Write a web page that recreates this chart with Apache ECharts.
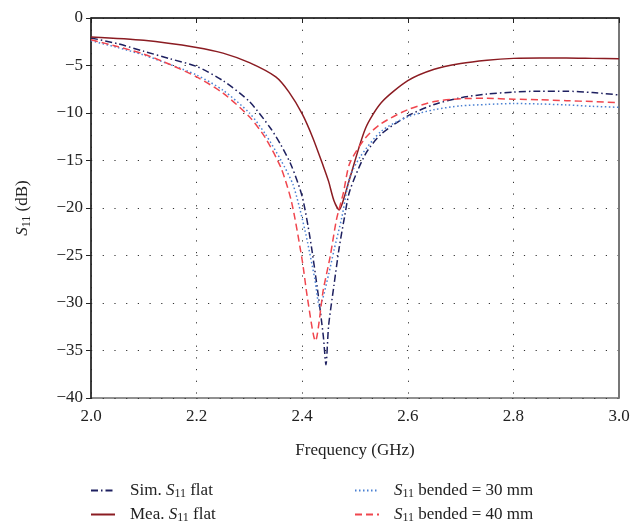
<!DOCTYPE html>
<html>
<head>
<meta charset="utf-8">
<script src="https://cdn.jsdelivr.net/npm/echarts@6/dist/echarts.min.js"></script>
<style>
  html, body { margin: 0; padding: 0; background: #fff; }
  #chart { width: 633px; height: 527px; }
</style>
</head>
<body>
<div id="chart"></div>
<script>
// frequency (GHz) / S11 (dB) pairs
const simFlat = [
  [2.0, -2.1], [2.05, -2.7], [2.1, -3.5], [2.15, -4.3], [2.2, -5.1], [2.25, -6.6],
  [2.3, -8.8], [2.34, -11.6], [2.36, -13.4], [2.38, -15.6], [2.4, -18.8], [2.415, -23.2],
  [2.43, -29.0], [2.44, -33.5], [2.445, -36.5], [2.45, -32.4], [2.46, -28.2], [2.47, -24.2],
  [2.48, -21.0], [2.49, -18.2], [2.52, -14.3], [2.55, -12.2], [2.6, -10.3], [2.65, -9.1],
  [2.7, -8.4], [2.75, -8.0], [2.8, -7.8], [2.85, -7.7], [2.9, -7.7], [2.95, -7.85], [3.0, -8.1]
]
const meaFlat = [
  [2.0, -2.0], [2.1, -2.35], [2.2, -3.1], [2.25, -3.7], [2.3, -4.7], [2.35, -6.2],
  [2.375, -7.8], [2.4, -10.1], [2.42, -12.6], [2.44, -15.6], [2.45, -17.2], [2.46, -19.2],
  [2.47, -20.2], [2.48, -18.8], [2.49, -16.9], [2.52, -11.6], [2.55, -8.9], [2.6, -6.6],
  [2.65, -5.4], [2.7, -4.8], [2.75, -4.45], [2.8, -4.25], [2.85, -4.2], [2.9, -4.2],
  [2.95, -4.25], [3.0, -4.3]
]
const bend30 = [
  [2.0, -2.4], [2.05, -3.1], [2.1, -3.9], [2.15, -4.9], [2.2, -6.0], [2.25, -7.6],
  [2.3, -10.0], [2.33, -12.2], [2.36, -15.0], [2.383, -17.6], [2.405, -22.3], [2.424, -27.5],
  [2.433, -30.4], [2.45, -27.0], [2.46, -24.5], [2.475, -21.0], [2.49, -16.8], [2.51, -14.6],
  [2.55, -11.9], [2.6, -10.4], [2.65, -9.65], [2.7, -9.25], [2.75, -9.1], [2.8, -9.0],
  [2.85, -9.05], [2.9, -9.15], [2.95, -9.3], [3.0, -9.4]
]
const bend40 = [
  [2.0, -2.3], [2.05, -3.0], [2.1, -3.8], [2.15, -4.9], [2.2, -6.2], [2.25, -7.9],
  [2.3, -10.4], [2.33, -12.6], [2.36, -15.8], [2.38, -19.4], [2.4, -25.5], [2.41, -29.5],
  [2.425, -34.0], [2.44, -28.6], [2.453, -25.1], [2.465, -21.2], [2.478, -18.4], [2.49, -15.3],
  [2.52, -12.6], [2.55, -11.1], [2.6, -9.65], [2.65, -8.8], [2.7, -8.5], [2.75, -8.45],
  [2.8, -8.55], [2.85, -8.6], [2.9, -8.7], [2.95, -8.8], [3.0, -8.9]
]
const seriesNames = ['Sim. S11 flat', 'Mea. S11 flat', 'S11 bended = 30 mm', 'S11 bended = 40 mm']
const legendLabels = {
  'Sim. S11 flat': '{n|Sim. }{i|S}{s|11}{n| flat}',
  'Mea. S11 flat': '{n|Mea. }{i|S}{s|11}{n| flat}',
  'S11 bended = 30 mm': '{i|S}{s|11}{n| bended = 30 mm}',
  'S11 bended = 40 mm': '{i|S}{s|11}{n| bended = 40 mm}'
}

const font = '"Liberation Serif", "DejaVu Serif", serif'
const rich = {
  n: { fontFamily: font, fontSize: 17, lineHeight: 20, color: '#222' },
  i: { fontFamily: font, fontSize: 17, lineHeight: 20, fontStyle: 'italic', color: '#222' },
  s: { fontFamily: font, fontSize: 12, lineHeight: 13, color: '#222', padding: [7, 0, 0, 0] }
}
const gridDots = { color: '#333', width: 1, type: [1.2, 10.5] }

function line(name, data, color, type) {
  return {
    name, type: 'line', data,
    showSymbol: false, symbol: 'none',
    smooth: 0.25,
    lineStyle: { color, width: 1.5, type },
    itemStyle: { color }
  }
}

function legendBox(names, left) {
  return {
    data: names, orient: 'vertical', left, top: 481, itemGap: 5, padding: 0,
    itemWidth: 24, itemHeight: 10,
    itemStyle: { opacity: 0 },
    formatter: n => legendLabels[n],
    textStyle: { rich, padding: [0, 0, 0, 10] }
  }
}

const chart = echarts.init(document.getElementById('chart'))
chart.setOption({
  animation: false,
  grid: { left: 91, right: 14, top: 18, bottom: 129, show: true, borderColor: '#222', borderWidth: 1 },
  legend: [legendBox(seriesNames.slice(0, 2), 90), legendBox(seriesNames.slice(2), 354)],
  xAxis: {
    type: 'value', min: 2, max: 3, interval: 0.2,
    name: 'Frequency (GHz)', nameLocation: 'middle', nameGap: 44,
    nameTextStyle: { fontFamily: font, fontSize: 17, color: '#222' },
    axisLine: { lineStyle: { color: '#222', width: 1.5 } },
    axisTick: { inside: false, length: 5, lineStyle: { color: '#222' } },
    axisLabel: { fontFamily: font, fontSize: 17, color: '#222', margin: 10, formatter: v => v.toFixed(1) },
    splitLine: { show: true, lineStyle: gridDots }
  },
  yAxis: [
    {
      type: 'value', min: -40, max: 0, interval: 5,
      name: '{i|S}{s|11}{n| (dB)}', nameLocation: 'middle', nameGap: 58, nameRotate: 90,
      nameTextStyle: { rich },
      axisLine: { show: true, lineStyle: { color: '#222', width: 1.5 } },
      axisTick: { show: true, inside: false, length: 5, lineStyle: { color: '#222' } },
      axisLabel: {
        fontFamily: font, fontSize: 17, color: '#222', margin: 8,
        formatter: v => v < 0 ? '\u2212' + (-v) : String(v)
      },
      splitLine: { show: true, lineStyle: gridDots }
    },
    {
      type: 'value', min: -40, max: 0, interval: 5, position: 'right',
      axisLine: { show: true, lineStyle: { color: '#777', width: 2 } },
      axisTick: { show: false }, axisLabel: { show: false }, splitLine: { show: false }
    }
  ],
  series: [
    line(seriesNames[0], simFlat, '#1e2060', [7, 3, 1.5, 3]),
    line(seriesNames[1], meaFlat, '#8b1c22', 'solid'),
    line(seriesNames[2], bend30, '#4a80d2', [1.5, 2.5]),
    line(seriesNames[3], bend40, '#f0464e', [7, 4])
  ]
})
</script>
</body>
</html>
